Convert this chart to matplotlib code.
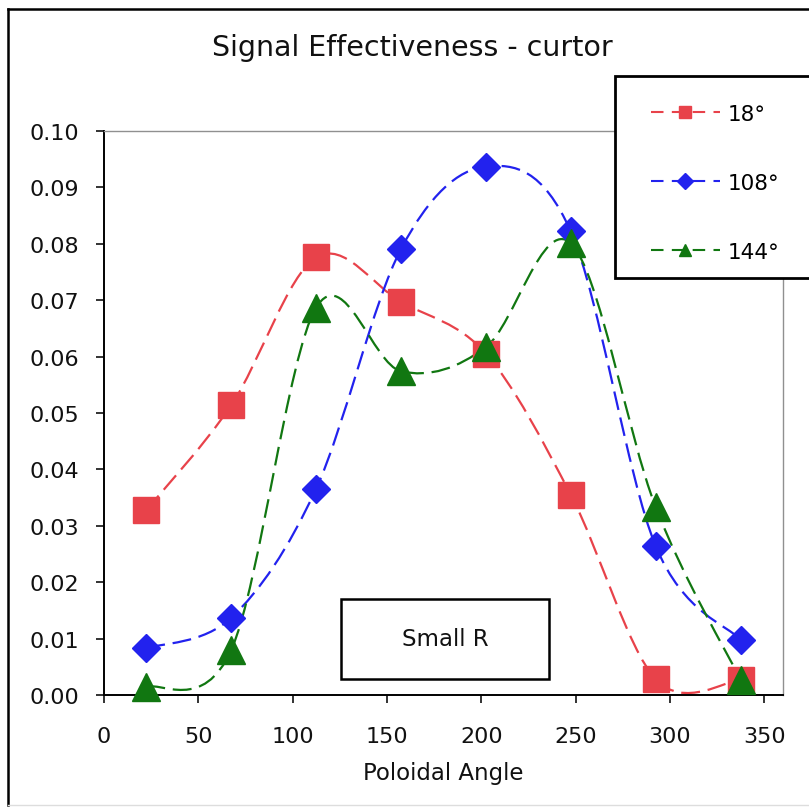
import matplotlib
matplotlib.use("Agg")
import matplotlib.pyplot as plt
import numpy as np
from matplotlib.path import Path
from matplotlib.patches import PathPatch, Rectangle
from matplotlib.lines import Line2D

# ---- data ----
angles = [22.5, 67.5, 112.5, 157.5, 202.5, 247.5, 292.5, 337.5]
s18 = [0.0328, 0.0514, 0.0776, 0.0697, 0.0605, 0.0355, 0.0028, 0.0027]
s108 = [0.0083, 0.0137, 0.0366, 0.0791, 0.0937, 0.0822, 0.0264, 0.0098]
s144 = [0.0014, 0.0080, 0.0687, 0.0574, 0.0617, 0.0801, 0.0333, 0.0027]
labels = ["18°", "108°", "144°"]
xticks = [0, 50, 100, 150, 200, 250, 300, 350]
yticks = [0.00, 0.01, 0.02, 0.03, 0.04, 0.05, 0.06, 0.07, 0.08, 0.09, 0.10]

colors = ["#e8424a", "#2222ee", "#117711"]
markers = ["s", "D", "^"]
msizes = [19, 14.5, 20]

W, H = 809, 812
fig = plt.figure(figsize=(W / 100, H / 100), dpi=100)
fig.patch.set_facecolor("white")

# outer frame
fig.add_artist(Line2D([8 / W, 8 / W], [1 - 10 / H, 1 - 806 / H], transform=fig.transFigure, color="black", lw=1.8))
fig.add_artist(Line2D([8 / W, 1.0], [1 - 10 / H, 1 - 10 / H], transform=fig.transFigure, color="black", lw=1.8))
fig.add_artist(Line2D([8 / W, 1.0], [1 - 806 / H, 1 - 806 / H], transform=fig.transFigure, color="#dddddd", lw=1.0))

ax = fig.add_axes([104 / W, 1 - 696 / H, (783 - 104) / W, (696 - 132) / H])
ax.set_xlim(0, 360)
ax.set_ylim(0, 0.10)
ax.set_xticks(xticks)
ax.set_yticks(yticks)
ax.set_yticklabels([f"{v:.2f}" for v in yticks])
ax.tick_params(axis="both", direction="out", length=6, width=1.2, labelsize=16, colors="#111111")
ax.tick_params(axis="y", pad=12)
ax.tick_params(axis="x", pad=16)
for sp in ["left", "bottom"]:
    ax.spines[sp].set_color("black")
    ax.spines[sp].set_linewidth(1.4)
for sp in ["top", "right"]:
    ax.spines[sp].set_color("#909090")
    ax.spines[sp].set_linewidth(1.0)
ax.set_xlabel("Poloidal Angle", fontsize=16.5, labelpad=11, color="#111111")


def smooth_path(xs, ys):
    pts = np.column_stack([xs, ys])
    n = len(pts)
    verts = [pts[0]]
    codes = [Path.MOVETO]
    for i in range(n - 1):
        p0 = pts[i - 1] if i > 0 else pts[i]
        p1 = pts[i]
        p2 = pts[i + 1]
        p3 = pts[i + 2] if i + 2 < n else pts[i + 1]
        c1 = p1 + (p2 - p0) / 6.0
        c2 = p2 - (p3 - p1) / 6.0
        verts += [c1, c2, p2]
        codes += [Path.CURVE4] * 3
    return Path(verts, codes)


dash = (0, (8.5, 3.5))
series = [s18, s108, s144]
handles = []
for ys, c, m, ms, lab in zip(series, colors, markers, msizes, labels):
    patch = PathPatch(smooth_path(angles, ys), fill=False, edgecolor=c, lw=1.6,
                      linestyle=dash, clip_on=False, zorder=2)
    ax.add_patch(patch)
    ax.plot(angles, ys, linestyle="none", marker=m, markersize=ms, color=c,
            markeredgecolor=c, clip_on=False, zorder=3)
    handles.append(Line2D([], [], color=c, lw=1.5, linestyle=(0, (6, 4)), marker=m,
                          markersize=8, markeredgecolor=c))

fig.text(412 / W, 1 - 48 / H, "Signal Effectiveness - curtor", ha="center", va="center",
         fontsize=20.5, color="#111111")

# legend box
fig.add_artist(Rectangle((615 / W, 1 - 279 / H), (830 - 615) / W, (279 - 77) / H,
                         transform=fig.transFigure, facecolor="white", edgecolor="black",
                         lw=2.0, clip_on=False, zorder=5))
leg = fig.legend(handles=handles, labels=labels, loc="upper left",
                 bbox_to_anchor=(640 / W, 1 - 94 / H), frameon=False, fontsize=15.5,
                 handlelength=3.2, labelspacing=2.28, handletextpad=0.35, borderpad=0)
leg.set_zorder(6)

# Small R box
fig.add_artist(Rectangle((341 / W, 1 - 680 / H), (549 - 341) / W, (680 - 600) / H,
                         transform=fig.transFigure, facecolor="white", edgecolor="black",
                         lw=1.8, zorder=5))
fig.text(445 / W, 1 - 640 / H, "Small R", ha="center", va="center", fontsize=16.5,
         color="#111111", zorder=6)

fig.savefig("out.png", dpi=100, facecolor="white")
